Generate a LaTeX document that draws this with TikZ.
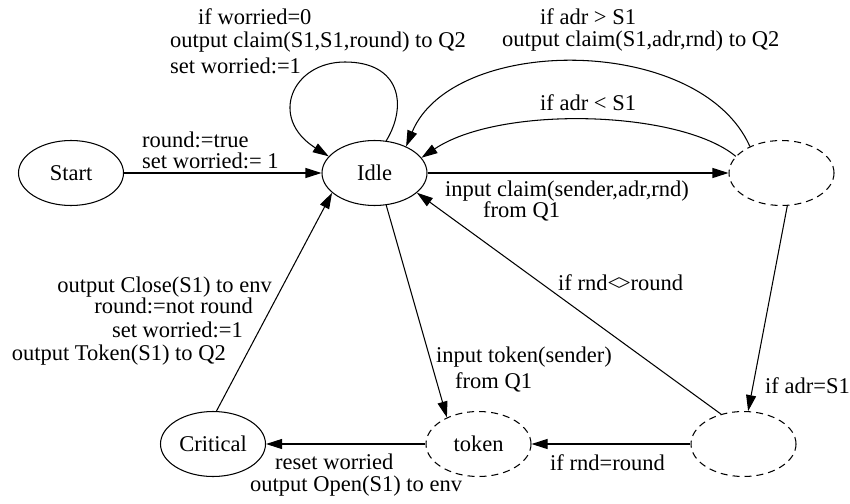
\documentclass[tikz,border=0pt]{standalone}
\usepackage{fontspec}
\setmainfont{Liberation Serif}
\usetikzlibrary{arrows.meta,shapes.geometric}
\begin{document}
\begin{tikzpicture}[x=1pt,y=-1pt,
  every node/.style={font=\fontsize{22.5}{27}\selectfont},
  state/.style={ellipse, draw, line width=1.05pt, minimum width=105pt,
                minimum height=65pt, inner sep=0pt},
  hidden/.style={state, dash pattern=on 7pt off 5pt},
  edge/.style={line width=1.05pt, -{Triangle[length=16pt,width=10pt]}},
  lbl/.style={inner sep=0pt, anchor=base west},
  lblr/.style={inner sep=0pt, anchor=base east}]
\useasboundingbox (0,0) rectangle (850,503);

% states
\node[state]  (Start)    at (71,173)    {Start};
\node[state]  (Idle)     at (374.5,173) {Idle};
\node[hidden] (q)        at (781.5,173) {};
\node[hidden] (r)        at (743.5,444) {};
\node[hidden] (token)    at (478.5,444) {token};
\node[state]  (Critical) at (213,444)   {Critical};

% transitions
\draw[edge] (Start) -- (Idle);
\coordinate (looptop) at (345,62);
\draw[edge] (Idle.70) .. controls (408,105) and (400,62) .. (looptop)
            .. controls (292,62) and (268,118) .. (Idle.160);
\draw[edge] (Idle) -- (q);
\draw[edge] (q.160) .. controls (680,110) and (500,105) .. (Idle.18);
\draw[edge] (q.140) .. controls (700,34) and (453,34) .. (Idle.40);
\draw[edge] (q.280) -- (r.82);
\draw[edge] (r.127) -- (Idle.335);
\draw[edge] (Idle.290) -- (token.140);
\draw[edge] (r) -- (token);
\draw[edge] (token) -- (Critical);
\draw[edge] (Critical.84) -- (Idle.205);

% transition labels
\node[lbl] (sl1) at (198,25) {if worried=0};
\node[lbl] (sl2) at (170,48) {output claim(S1,S1,round) to Q2};
\node[lbl] (sl3) at (170,73) {set worried:=1};

\node[lbl] (st1) at (142,147) {round:=true};
\node[lbl] (st2) at (142,168) {set worried:= 1};

\node[lbl] (ci1) at (445,196) {input claim(sender,adr,rnd)};
\node[lbl] (ci2) at (483,217) {from Q1};

\node[lbl] (gt1) at (540,25) {if adr > S1};
\node[lbl] (gt2) at (502,47) {output claim(S1,adr,rnd) to Q2};

\node[lbl] (lt1) at (540,110) {if adr < S1};

\node[lbl] (eq1) at (765,393) {if adr=S1};

\node[lbl] (ne1) at (558,290) {if rnd<\kern-0.1em>round};

\node[lbl] (tk1) at (436,362) {input token(sender)};
\node[lbl] (tk2) at (455,388) {from Q1};

\node[lbl] (rr1) at (550,470) {if rnd=round};

\node[lbl] (rs1) at (275,469) {reset worried};
\node[lbl] (rs2) at (250,491) {output Open(S1) to env};

\node[lblr] (co1) at (272,292) {output Close(S1) to env};
\node[lblr] (co2) at (253,313) {round:=not round};
\node[lblr] (co3) at (243,337) {set worried:=1};
\node[lblr] (co4) at (226,360) {output Token(S1) to Q2};
\end{tikzpicture}
\end{document}
